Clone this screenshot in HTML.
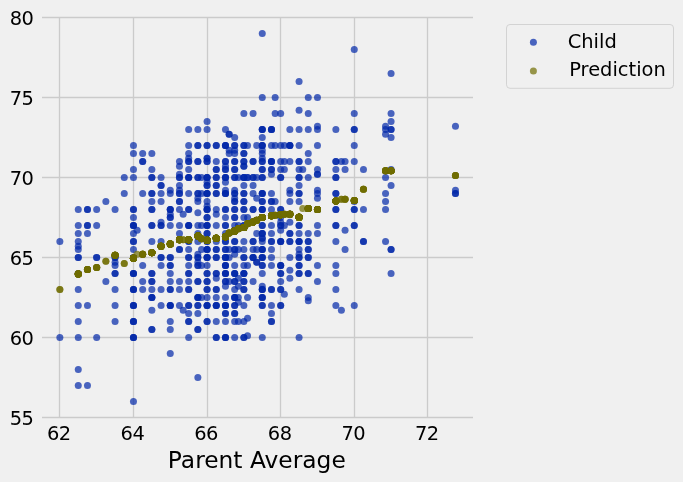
<!DOCTYPE html>
<html lang="en"><head><meta charset="utf-8"><title>Parent Average vs Child</title>
<style>html,body{margin:0;padding:0;background:#f0f0f0;}body{width:683px;height:482px;overflow:hidden;}svg{display:block;}text{font-family:"DejaVu Sans","Liberation Sans",sans-serif;fill:#000;}</style></head><body>
<svg width="683" height="482" viewBox="0 0 683 482">
<rect width="683" height="482" fill="#f0f0f0"/>
<g stroke="#cbcbcb" stroke-width="1.3" fill="none">
<line x1="59.5" y1="17.00" x2="59.5" y2="418.00"/>
<line x1="133.5" y1="17.00" x2="133.5" y2="418.00"/>
<line x1="207.5" y1="17.00" x2="207.5" y2="418.00"/>
<line x1="280.5" y1="17.00" x2="280.5" y2="418.00"/>
<line x1="354.5" y1="17.00" x2="354.5" y2="418.00"/>
<line x1="427.5" y1="17.00" x2="427.5" y2="418.00"/>
<line x1="42.00" y1="417.5" x2="473.00" y2="417.5"/>
<line x1="42.00" y1="337.5" x2="473.00" y2="337.5"/>
<line x1="42.00" y1="257.5" x2="473.00" y2="257.5"/>
<line x1="42.00" y1="177.5" x2="473.00" y2="177.5"/>
<line x1="42.00" y1="97.5" x2="473.00" y2="97.5"/>
<line x1="42.00" y1="17.5" x2="473.00" y2="17.5"/>
</g>
<g fill="rgb(0,38,168)" fill-opacity="0.7">
<circle cx="133.47" cy="401.43" r="3.5"/>
<circle cx="78.27" cy="385.43" r="3.5"/>
<circle cx="87.47" cy="385.43" r="3.5"/>
<circle cx="197.87" cy="377.43" r="3.5"/>
<circle cx="78.27" cy="369.43" r="3.5"/>
<circle cx="170.27" cy="353.43" r="3.5"/>
<circle cx="59.87" cy="337.43" r="3.5"/>
<circle cx="78.27" cy="337.43" r="3.5"/>
<circle cx="96.67" cy="337.43" r="3.5"/>
<circle cx="133.47" cy="337.43" r="3.5"/>
<circle cx="133.47" cy="337.43" r="3.5"/>
<circle cx="133.47" cy="337.43" r="3.5"/>
<circle cx="188.67" cy="337.43" r="3.5"/>
<circle cx="216.27" cy="337.43" r="3.5"/>
<circle cx="216.27" cy="337.43" r="3.5"/>
<circle cx="225.47" cy="337.43" r="3.5"/>
<circle cx="225.47" cy="337.43" r="3.5"/>
<circle cx="225.47" cy="337.43" r="3.5"/>
<circle cx="234.67" cy="337.43" r="3.5"/>
<circle cx="243.87" cy="337.43" r="3.5"/>
<circle cx="243.87" cy="337.43" r="3.5"/>
<circle cx="262.27" cy="337.43" r="3.5"/>
<circle cx="299.07" cy="337.43" r="3.5"/>
<circle cx="247.55" cy="335.83" r="3.5"/>
<circle cx="151.87" cy="329.43" r="3.5"/>
<circle cx="151.87" cy="329.43" r="3.5"/>
<circle cx="170.27" cy="329.43" r="3.5"/>
<circle cx="197.87" cy="329.43" r="3.5"/>
<circle cx="197.87" cy="329.43" r="3.5"/>
<circle cx="78.27" cy="321.43" r="3.5"/>
<circle cx="115.07" cy="321.43" r="3.5"/>
<circle cx="133.47" cy="321.43" r="3.5"/>
<circle cx="133.47" cy="321.43" r="3.5"/>
<circle cx="133.47" cy="321.43" r="3.5"/>
<circle cx="170.27" cy="321.43" r="3.5"/>
<circle cx="188.67" cy="321.43" r="3.5"/>
<circle cx="188.67" cy="321.43" r="3.5"/>
<circle cx="207.07" cy="321.43" r="3.5"/>
<circle cx="207.07" cy="321.43" r="3.5"/>
<circle cx="216.27" cy="321.43" r="3.5"/>
<circle cx="225.47" cy="321.43" r="3.5"/>
<circle cx="234.67" cy="321.43" r="3.5"/>
<circle cx="238.35" cy="321.43" r="3.5"/>
<circle cx="243.87" cy="321.43" r="3.5"/>
<circle cx="271.47" cy="321.43" r="3.5"/>
<circle cx="271.47" cy="321.43" r="3.5"/>
<circle cx="247.55" cy="318.23" r="3.5"/>
<circle cx="188.67" cy="313.43" r="3.5"/>
<circle cx="197.87" cy="313.43" r="3.5"/>
<circle cx="225.47" cy="313.43" r="3.5"/>
<circle cx="225.47" cy="313.43" r="3.5"/>
<circle cx="234.67" cy="313.43" r="3.5"/>
<circle cx="234.67" cy="313.43" r="3.5"/>
<circle cx="271.47" cy="313.43" r="3.5"/>
<circle cx="151.87" cy="310.23" r="3.5"/>
<circle cx="183.15" cy="310.23" r="3.5"/>
<circle cx="341.39" cy="310.23" r="3.5"/>
<circle cx="78.27" cy="305.43" r="3.5"/>
<circle cx="87.47" cy="305.43" r="3.5"/>
<circle cx="115.07" cy="305.43" r="3.5"/>
<circle cx="133.47" cy="305.43" r="3.5"/>
<circle cx="133.47" cy="305.43" r="3.5"/>
<circle cx="133.47" cy="305.43" r="3.5"/>
<circle cx="161.07" cy="305.43" r="3.5"/>
<circle cx="170.27" cy="305.43" r="3.5"/>
<circle cx="170.27" cy="305.43" r="3.5"/>
<circle cx="170.27" cy="305.43" r="3.5"/>
<circle cx="179.47" cy="305.43" r="3.5"/>
<circle cx="188.67" cy="305.43" r="3.5"/>
<circle cx="188.67" cy="305.43" r="3.5"/>
<circle cx="197.87" cy="305.43" r="3.5"/>
<circle cx="197.87" cy="305.43" r="3.5"/>
<circle cx="207.07" cy="305.43" r="3.5"/>
<circle cx="207.07" cy="305.43" r="3.5"/>
<circle cx="207.07" cy="305.43" r="3.5"/>
<circle cx="216.27" cy="305.43" r="3.5"/>
<circle cx="216.27" cy="305.43" r="3.5"/>
<circle cx="216.27" cy="305.43" r="3.5"/>
<circle cx="225.47" cy="305.43" r="3.5"/>
<circle cx="225.47" cy="305.43" r="3.5"/>
<circle cx="225.47" cy="305.43" r="3.5"/>
<circle cx="234.67" cy="305.43" r="3.5"/>
<circle cx="234.67" cy="305.43" r="3.5"/>
<circle cx="243.87" cy="305.43" r="3.5"/>
<circle cx="262.27" cy="305.43" r="3.5"/>
<circle cx="262.27" cy="305.43" r="3.5"/>
<circle cx="271.47" cy="305.43" r="3.5"/>
<circle cx="280.67" cy="305.43" r="3.5"/>
<circle cx="280.67" cy="305.43" r="3.5"/>
<circle cx="335.87" cy="305.43" r="3.5"/>
<circle cx="354.27" cy="305.43" r="3.5"/>
<circle cx="238.35" cy="302.23" r="3.5"/>
<circle cx="308.27" cy="300.63" r="3.5"/>
<circle cx="151.87" cy="297.43" r="3.5"/>
<circle cx="151.87" cy="297.43" r="3.5"/>
<circle cx="151.87" cy="297.43" r="3.5"/>
<circle cx="197.87" cy="297.43" r="3.5"/>
<circle cx="197.87" cy="297.43" r="3.5"/>
<circle cx="197.87" cy="297.43" r="3.5"/>
<circle cx="201.55" cy="297.43" r="3.5"/>
<circle cx="207.07" cy="297.43" r="3.5"/>
<circle cx="216.27" cy="297.43" r="3.5"/>
<circle cx="225.47" cy="297.43" r="3.5"/>
<circle cx="234.67" cy="297.43" r="3.5"/>
<circle cx="234.67" cy="297.43" r="3.5"/>
<circle cx="234.67" cy="297.43" r="3.5"/>
<circle cx="238.35" cy="297.43" r="3.5"/>
<circle cx="247.55" cy="297.43" r="3.5"/>
<circle cx="262.27" cy="297.43" r="3.5"/>
<circle cx="262.27" cy="297.43" r="3.5"/>
<circle cx="262.27" cy="297.43" r="3.5"/>
<circle cx="308.27" cy="297.43" r="3.5"/>
<circle cx="284.35" cy="294.23" r="3.5"/>
<circle cx="78.27" cy="289.43" r="3.5"/>
<circle cx="115.07" cy="289.43" r="3.5"/>
<circle cx="133.47" cy="289.43" r="3.5"/>
<circle cx="133.47" cy="289.43" r="3.5"/>
<circle cx="133.47" cy="289.43" r="3.5"/>
<circle cx="142.67" cy="289.43" r="3.5"/>
<circle cx="151.87" cy="289.43" r="3.5"/>
<circle cx="161.07" cy="289.43" r="3.5"/>
<circle cx="170.27" cy="289.43" r="3.5"/>
<circle cx="170.27" cy="289.43" r="3.5"/>
<circle cx="179.47" cy="289.43" r="3.5"/>
<circle cx="188.67" cy="289.43" r="3.5"/>
<circle cx="188.67" cy="289.43" r="3.5"/>
<circle cx="207.07" cy="289.43" r="3.5"/>
<circle cx="207.07" cy="289.43" r="3.5"/>
<circle cx="216.27" cy="289.43" r="3.5"/>
<circle cx="216.27" cy="289.43" r="3.5"/>
<circle cx="234.67" cy="289.43" r="3.5"/>
<circle cx="243.87" cy="289.43" r="3.5"/>
<circle cx="243.87" cy="289.43" r="3.5"/>
<circle cx="262.27" cy="289.43" r="3.5"/>
<circle cx="262.27" cy="289.43" r="3.5"/>
<circle cx="262.27" cy="289.43" r="3.5"/>
<circle cx="271.47" cy="289.43" r="3.5"/>
<circle cx="271.47" cy="289.43" r="3.5"/>
<circle cx="280.67" cy="289.43" r="3.5"/>
<circle cx="280.67" cy="289.43" r="3.5"/>
<circle cx="299.07" cy="289.43" r="3.5"/>
<circle cx="335.87" cy="289.43" r="3.5"/>
<circle cx="225.47" cy="286.23" r="3.5"/>
<circle cx="238.35" cy="286.23" r="3.5"/>
<circle cx="262.27" cy="286.23" r="3.5"/>
<circle cx="105.87" cy="281.43" r="3.5"/>
<circle cx="142.67" cy="281.43" r="3.5"/>
<circle cx="151.87" cy="281.43" r="3.5"/>
<circle cx="151.87" cy="281.43" r="3.5"/>
<circle cx="170.27" cy="281.43" r="3.5"/>
<circle cx="179.47" cy="281.43" r="3.5"/>
<circle cx="188.67" cy="281.43" r="3.5"/>
<circle cx="197.87" cy="281.43" r="3.5"/>
<circle cx="197.87" cy="281.43" r="3.5"/>
<circle cx="207.07" cy="281.43" r="3.5"/>
<circle cx="207.07" cy="281.43" r="3.5"/>
<circle cx="225.47" cy="281.43" r="3.5"/>
<circle cx="225.47" cy="281.43" r="3.5"/>
<circle cx="229.15" cy="281.43" r="3.5"/>
<circle cx="234.67" cy="281.43" r="3.5"/>
<circle cx="234.67" cy="281.43" r="3.5"/>
<circle cx="243.87" cy="281.43" r="3.5"/>
<circle cx="243.87" cy="281.43" r="3.5"/>
<circle cx="253.07" cy="281.43" r="3.5"/>
<circle cx="280.67" cy="281.43" r="3.5"/>
<circle cx="317.47" cy="281.43" r="3.5"/>
<circle cx="216.27" cy="278.23" r="3.5"/>
<circle cx="238.35" cy="278.23" r="3.5"/>
<circle cx="289.87" cy="278.23" r="3.5"/>
<circle cx="78.27" cy="273.43" r="3.5"/>
<circle cx="115.07" cy="273.43" r="3.5"/>
<circle cx="115.07" cy="273.43" r="3.5"/>
<circle cx="133.47" cy="273.43" r="3.5"/>
<circle cx="133.47" cy="273.43" r="3.5"/>
<circle cx="133.47" cy="273.43" r="3.5"/>
<circle cx="151.87" cy="273.43" r="3.5"/>
<circle cx="151.87" cy="273.43" r="3.5"/>
<circle cx="170.27" cy="273.43" r="3.5"/>
<circle cx="188.67" cy="273.43" r="3.5"/>
<circle cx="188.67" cy="273.43" r="3.5"/>
<circle cx="207.07" cy="273.43" r="3.5"/>
<circle cx="207.07" cy="273.43" r="3.5"/>
<circle cx="216.27" cy="273.43" r="3.5"/>
<circle cx="216.27" cy="273.43" r="3.5"/>
<circle cx="225.47" cy="273.43" r="3.5"/>
<circle cx="225.47" cy="273.43" r="3.5"/>
<circle cx="225.47" cy="273.43" r="3.5"/>
<circle cx="234.67" cy="273.43" r="3.5"/>
<circle cx="234.67" cy="273.43" r="3.5"/>
<circle cx="234.67" cy="273.43" r="3.5"/>
<circle cx="243.87" cy="273.43" r="3.5"/>
<circle cx="243.87" cy="273.43" r="3.5"/>
<circle cx="243.87" cy="273.43" r="3.5"/>
<circle cx="262.27" cy="273.43" r="3.5"/>
<circle cx="280.67" cy="273.43" r="3.5"/>
<circle cx="280.67" cy="273.43" r="3.5"/>
<circle cx="299.07" cy="273.43" r="3.5"/>
<circle cx="299.07" cy="273.43" r="3.5"/>
<circle cx="308.27" cy="273.43" r="3.5"/>
<circle cx="308.27" cy="273.43" r="3.5"/>
<circle cx="335.87" cy="273.43" r="3.5"/>
<circle cx="391.07" cy="273.43" r="3.5"/>
<circle cx="289.87" cy="270.23" r="3.5"/>
<circle cx="115.07" cy="265.43" r="3.5"/>
<circle cx="142.67" cy="265.43" r="3.5"/>
<circle cx="161.07" cy="265.43" r="3.5"/>
<circle cx="170.27" cy="265.43" r="3.5"/>
<circle cx="170.27" cy="265.43" r="3.5"/>
<circle cx="188.67" cy="265.43" r="3.5"/>
<circle cx="197.87" cy="265.43" r="3.5"/>
<circle cx="197.87" cy="265.43" r="3.5"/>
<circle cx="201.55" cy="265.43" r="3.5"/>
<circle cx="207.07" cy="265.43" r="3.5"/>
<circle cx="225.47" cy="265.43" r="3.5"/>
<circle cx="225.47" cy="265.43" r="3.5"/>
<circle cx="225.47" cy="265.43" r="3.5"/>
<circle cx="234.67" cy="265.43" r="3.5"/>
<circle cx="243.87" cy="265.43" r="3.5"/>
<circle cx="247.55" cy="265.43" r="3.5"/>
<circle cx="262.27" cy="265.43" r="3.5"/>
<circle cx="262.27" cy="265.43" r="3.5"/>
<circle cx="271.47" cy="265.43" r="3.5"/>
<circle cx="280.67" cy="265.43" r="3.5"/>
<circle cx="280.67" cy="265.43" r="3.5"/>
<circle cx="280.67" cy="265.43" r="3.5"/>
<circle cx="299.07" cy="265.43" r="3.5"/>
<circle cx="299.07" cy="265.43" r="3.5"/>
<circle cx="317.47" cy="265.43" r="3.5"/>
<circle cx="335.87" cy="265.43" r="3.5"/>
<circle cx="115.07" cy="262.23" r="3.5"/>
<circle cx="197.87" cy="262.23" r="3.5"/>
<circle cx="256.75" cy="262.23" r="3.5"/>
<circle cx="256.75" cy="262.23" r="3.5"/>
<circle cx="78.27" cy="257.43" r="3.5"/>
<circle cx="78.27" cy="257.43" r="3.5"/>
<circle cx="96.67" cy="257.43" r="3.5"/>
<circle cx="96.67" cy="257.43" r="3.5"/>
<circle cx="115.07" cy="257.43" r="3.5"/>
<circle cx="115.07" cy="257.43" r="3.5"/>
<circle cx="133.47" cy="257.43" r="3.5"/>
<circle cx="161.07" cy="257.43" r="3.5"/>
<circle cx="161.07" cy="257.43" r="3.5"/>
<circle cx="170.27" cy="257.43" r="3.5"/>
<circle cx="170.27" cy="257.43" r="3.5"/>
<circle cx="188.67" cy="257.43" r="3.5"/>
<circle cx="188.67" cy="257.43" r="3.5"/>
<circle cx="197.87" cy="257.43" r="3.5"/>
<circle cx="197.87" cy="257.43" r="3.5"/>
<circle cx="207.07" cy="257.43" r="3.5"/>
<circle cx="207.07" cy="257.43" r="3.5"/>
<circle cx="207.07" cy="257.43" r="3.5"/>
<circle cx="216.27" cy="257.43" r="3.5"/>
<circle cx="216.27" cy="257.43" r="3.5"/>
<circle cx="225.47" cy="257.43" r="3.5"/>
<circle cx="225.47" cy="257.43" r="3.5"/>
<circle cx="225.47" cy="257.43" r="3.5"/>
<circle cx="229.15" cy="257.43" r="3.5"/>
<circle cx="243.87" cy="257.43" r="3.5"/>
<circle cx="243.87" cy="257.43" r="3.5"/>
<circle cx="253.07" cy="257.43" r="3.5"/>
<circle cx="253.07" cy="257.43" r="3.5"/>
<circle cx="253.07" cy="257.43" r="3.5"/>
<circle cx="262.27" cy="257.43" r="3.5"/>
<circle cx="262.27" cy="257.43" r="3.5"/>
<circle cx="262.27" cy="257.43" r="3.5"/>
<circle cx="271.47" cy="257.43" r="3.5"/>
<circle cx="289.87" cy="257.43" r="3.5"/>
<circle cx="299.07" cy="257.43" r="3.5"/>
<circle cx="299.07" cy="257.43" r="3.5"/>
<circle cx="308.27" cy="257.43" r="3.5"/>
<circle cx="308.27" cy="257.43" r="3.5"/>
<circle cx="197.87" cy="254.23" r="3.5"/>
<circle cx="234.67" cy="254.23" r="3.5"/>
<circle cx="299.07" cy="254.23" r="3.5"/>
<circle cx="78.27" cy="249.43" r="3.5"/>
<circle cx="133.47" cy="249.43" r="3.5"/>
<circle cx="179.47" cy="249.43" r="3.5"/>
<circle cx="179.47" cy="249.43" r="3.5"/>
<circle cx="188.67" cy="249.43" r="3.5"/>
<circle cx="201.55" cy="249.43" r="3.5"/>
<circle cx="207.07" cy="249.43" r="3.5"/>
<circle cx="207.07" cy="249.43" r="3.5"/>
<circle cx="207.07" cy="249.43" r="3.5"/>
<circle cx="216.27" cy="249.43" r="3.5"/>
<circle cx="216.27" cy="249.43" r="3.5"/>
<circle cx="225.47" cy="249.43" r="3.5"/>
<circle cx="225.47" cy="249.43" r="3.5"/>
<circle cx="229.15" cy="249.43" r="3.5"/>
<circle cx="234.67" cy="249.43" r="3.5"/>
<circle cx="234.67" cy="249.43" r="3.5"/>
<circle cx="238.35" cy="249.43" r="3.5"/>
<circle cx="243.87" cy="249.43" r="3.5"/>
<circle cx="253.07" cy="249.43" r="3.5"/>
<circle cx="256.75" cy="249.43" r="3.5"/>
<circle cx="262.27" cy="249.43" r="3.5"/>
<circle cx="262.27" cy="249.43" r="3.5"/>
<circle cx="262.27" cy="249.43" r="3.5"/>
<circle cx="271.47" cy="249.43" r="3.5"/>
<circle cx="299.07" cy="249.43" r="3.5"/>
<circle cx="308.27" cy="249.43" r="3.5"/>
<circle cx="308.27" cy="249.43" r="3.5"/>
<circle cx="345.07" cy="249.43" r="3.5"/>
<circle cx="391.07" cy="249.43" r="3.5"/>
<circle cx="391.07" cy="249.43" r="3.5"/>
<circle cx="78.27" cy="246.23" r="3.5"/>
<circle cx="59.87" cy="241.43" r="3.5"/>
<circle cx="78.27" cy="241.43" r="3.5"/>
<circle cx="133.47" cy="241.43" r="3.5"/>
<circle cx="133.47" cy="241.43" r="3.5"/>
<circle cx="151.87" cy="241.43" r="3.5"/>
<circle cx="161.07" cy="241.43" r="3.5"/>
<circle cx="188.67" cy="241.43" r="3.5"/>
<circle cx="188.67" cy="241.43" r="3.5"/>
<circle cx="197.87" cy="241.43" r="3.5"/>
<circle cx="207.07" cy="241.43" r="3.5"/>
<circle cx="207.07" cy="241.43" r="3.5"/>
<circle cx="216.27" cy="241.43" r="3.5"/>
<circle cx="225.47" cy="241.43" r="3.5"/>
<circle cx="225.47" cy="241.43" r="3.5"/>
<circle cx="234.67" cy="241.43" r="3.5"/>
<circle cx="234.67" cy="241.43" r="3.5"/>
<circle cx="243.87" cy="241.43" r="3.5"/>
<circle cx="253.07" cy="241.43" r="3.5"/>
<circle cx="253.07" cy="241.43" r="3.5"/>
<circle cx="262.27" cy="241.43" r="3.5"/>
<circle cx="271.47" cy="241.43" r="3.5"/>
<circle cx="271.47" cy="241.43" r="3.5"/>
<circle cx="280.67" cy="241.43" r="3.5"/>
<circle cx="280.67" cy="241.43" r="3.5"/>
<circle cx="280.67" cy="241.43" r="3.5"/>
<circle cx="289.87" cy="241.43" r="3.5"/>
<circle cx="289.87" cy="241.43" r="3.5"/>
<circle cx="299.07" cy="241.43" r="3.5"/>
<circle cx="299.07" cy="241.43" r="3.5"/>
<circle cx="299.07" cy="241.43" r="3.5"/>
<circle cx="308.27" cy="241.43" r="3.5"/>
<circle cx="308.27" cy="241.43" r="3.5"/>
<circle cx="335.87" cy="241.43" r="3.5"/>
<circle cx="363.47" cy="241.43" r="3.5"/>
<circle cx="363.47" cy="241.43" r="3.5"/>
<circle cx="385.55" cy="241.43" r="3.5"/>
<circle cx="262.27" cy="238.23" r="3.5"/>
<circle cx="262.27" cy="238.23" r="3.5"/>
<circle cx="78.27" cy="233.43" r="3.5"/>
<circle cx="87.47" cy="233.43" r="3.5"/>
<circle cx="133.47" cy="233.43" r="3.5"/>
<circle cx="179.47" cy="233.43" r="3.5"/>
<circle cx="197.87" cy="233.43" r="3.5"/>
<circle cx="207.07" cy="233.43" r="3.5"/>
<circle cx="207.07" cy="233.43" r="3.5"/>
<circle cx="225.47" cy="233.43" r="3.5"/>
<circle cx="256.75" cy="233.43" r="3.5"/>
<circle cx="262.27" cy="233.43" r="3.5"/>
<circle cx="262.27" cy="233.43" r="3.5"/>
<circle cx="262.27" cy="233.43" r="3.5"/>
<circle cx="271.47" cy="233.43" r="3.5"/>
<circle cx="289.87" cy="233.43" r="3.5"/>
<circle cx="289.87" cy="233.43" r="3.5"/>
<circle cx="299.07" cy="233.43" r="3.5"/>
<circle cx="308.27" cy="233.43" r="3.5"/>
<circle cx="317.47" cy="233.43" r="3.5"/>
<circle cx="137.15" cy="230.23" r="3.5"/>
<circle cx="280.67" cy="230.23" r="3.5"/>
<circle cx="345.07" cy="230.23" r="3.5"/>
<circle cx="78.27" cy="225.43" r="3.5"/>
<circle cx="87.47" cy="225.43" r="3.5"/>
<circle cx="87.47" cy="225.43" r="3.5"/>
<circle cx="96.67" cy="225.43" r="3.5"/>
<circle cx="133.47" cy="225.43" r="3.5"/>
<circle cx="133.47" cy="225.43" r="3.5"/>
<circle cx="133.47" cy="225.43" r="3.5"/>
<circle cx="151.87" cy="225.43" r="3.5"/>
<circle cx="151.87" cy="225.43" r="3.5"/>
<circle cx="161.07" cy="225.43" r="3.5"/>
<circle cx="161.07" cy="225.43" r="3.5"/>
<circle cx="170.27" cy="225.43" r="3.5"/>
<circle cx="179.47" cy="225.43" r="3.5"/>
<circle cx="188.67" cy="225.43" r="3.5"/>
<circle cx="188.67" cy="225.43" r="3.5"/>
<circle cx="188.67" cy="225.43" r="3.5"/>
<circle cx="197.87" cy="225.43" r="3.5"/>
<circle cx="201.55" cy="225.43" r="3.5"/>
<circle cx="207.07" cy="225.43" r="3.5"/>
<circle cx="207.07" cy="225.43" r="3.5"/>
<circle cx="207.07" cy="225.43" r="3.5"/>
<circle cx="216.27" cy="225.43" r="3.5"/>
<circle cx="225.47" cy="225.43" r="3.5"/>
<circle cx="225.47" cy="225.43" r="3.5"/>
<circle cx="234.67" cy="225.43" r="3.5"/>
<circle cx="238.35" cy="225.43" r="3.5"/>
<circle cx="243.87" cy="225.43" r="3.5"/>
<circle cx="243.87" cy="225.43" r="3.5"/>
<circle cx="262.27" cy="225.43" r="3.5"/>
<circle cx="262.27" cy="225.43" r="3.5"/>
<circle cx="271.47" cy="225.43" r="3.5"/>
<circle cx="280.67" cy="225.43" r="3.5"/>
<circle cx="280.67" cy="225.43" r="3.5"/>
<circle cx="284.35" cy="225.43" r="3.5"/>
<circle cx="299.07" cy="225.43" r="3.5"/>
<circle cx="299.07" cy="225.43" r="3.5"/>
<circle cx="317.47" cy="225.43" r="3.5"/>
<circle cx="335.87" cy="225.43" r="3.5"/>
<circle cx="335.87" cy="225.43" r="3.5"/>
<circle cx="354.27" cy="225.43" r="3.5"/>
<circle cx="354.27" cy="225.43" r="3.5"/>
<circle cx="161.07" cy="222.23" r="3.5"/>
<circle cx="280.67" cy="222.23" r="3.5"/>
<circle cx="289.87" cy="222.23" r="3.5"/>
<circle cx="133.47" cy="217.43" r="3.5"/>
<circle cx="170.27" cy="217.43" r="3.5"/>
<circle cx="170.27" cy="217.43" r="3.5"/>
<circle cx="207.07" cy="217.43" r="3.5"/>
<circle cx="207.07" cy="217.43" r="3.5"/>
<circle cx="225.47" cy="217.43" r="3.5"/>
<circle cx="234.67" cy="217.43" r="3.5"/>
<circle cx="234.67" cy="217.43" r="3.5"/>
<circle cx="243.87" cy="217.43" r="3.5"/>
<circle cx="247.55" cy="217.43" r="3.5"/>
<circle cx="280.67" cy="217.43" r="3.5"/>
<circle cx="170.27" cy="214.23" r="3.5"/>
<circle cx="183.15" cy="214.23" r="3.5"/>
<circle cx="216.27" cy="214.23" r="3.5"/>
<circle cx="197.87" cy="212.63" r="3.5"/>
<circle cx="78.27" cy="209.43" r="3.5"/>
<circle cx="87.47" cy="209.43" r="3.5"/>
<circle cx="87.47" cy="209.43" r="3.5"/>
<circle cx="96.67" cy="209.43" r="3.5"/>
<circle cx="115.07" cy="209.43" r="3.5"/>
<circle cx="133.47" cy="209.43" r="3.5"/>
<circle cx="133.47" cy="209.43" r="3.5"/>
<circle cx="151.87" cy="209.43" r="3.5"/>
<circle cx="151.87" cy="209.43" r="3.5"/>
<circle cx="170.27" cy="209.43" r="3.5"/>
<circle cx="170.27" cy="209.43" r="3.5"/>
<circle cx="170.27" cy="209.43" r="3.5"/>
<circle cx="179.47" cy="209.43" r="3.5"/>
<circle cx="188.67" cy="209.43" r="3.5"/>
<circle cx="188.67" cy="209.43" r="3.5"/>
<circle cx="207.07" cy="209.43" r="3.5"/>
<circle cx="207.07" cy="209.43" r="3.5"/>
<circle cx="207.07" cy="209.43" r="3.5"/>
<circle cx="216.27" cy="209.43" r="3.5"/>
<circle cx="225.47" cy="209.43" r="3.5"/>
<circle cx="225.47" cy="209.43" r="3.5"/>
<circle cx="234.67" cy="209.43" r="3.5"/>
<circle cx="234.67" cy="209.43" r="3.5"/>
<circle cx="243.87" cy="209.43" r="3.5"/>
<circle cx="243.87" cy="209.43" r="3.5"/>
<circle cx="253.07" cy="209.43" r="3.5"/>
<circle cx="253.07" cy="209.43" r="3.5"/>
<circle cx="262.27" cy="209.43" r="3.5"/>
<circle cx="262.27" cy="209.43" r="3.5"/>
<circle cx="262.27" cy="209.43" r="3.5"/>
<circle cx="271.47" cy="209.43" r="3.5"/>
<circle cx="280.67" cy="209.43" r="3.5"/>
<circle cx="280.67" cy="209.43" r="3.5"/>
<circle cx="335.87" cy="209.43" r="3.5"/>
<circle cx="335.87" cy="209.43" r="3.5"/>
<circle cx="354.27" cy="209.43" r="3.5"/>
<circle cx="354.27" cy="209.43" r="3.5"/>
<circle cx="363.47" cy="209.43" r="3.5"/>
<circle cx="385.55" cy="209.43" r="3.5"/>
<circle cx="207.07" cy="206.23" r="3.5"/>
<circle cx="105.87" cy="201.43" r="3.5"/>
<circle cx="151.87" cy="201.43" r="3.5"/>
<circle cx="161.07" cy="201.43" r="3.5"/>
<circle cx="179.47" cy="201.43" r="3.5"/>
<circle cx="179.47" cy="201.43" r="3.5"/>
<circle cx="197.87" cy="201.43" r="3.5"/>
<circle cx="207.07" cy="201.43" r="3.5"/>
<circle cx="234.67" cy="201.43" r="3.5"/>
<circle cx="234.67" cy="201.43" r="3.5"/>
<circle cx="243.87" cy="201.43" r="3.5"/>
<circle cx="243.87" cy="201.43" r="3.5"/>
<circle cx="262.27" cy="201.43" r="3.5"/>
<circle cx="262.27" cy="201.43" r="3.5"/>
<circle cx="271.47" cy="201.43" r="3.5"/>
<circle cx="271.47" cy="201.43" r="3.5"/>
<circle cx="275.15" cy="201.43" r="3.5"/>
<circle cx="289.87" cy="201.43" r="3.5"/>
<circle cx="299.07" cy="201.43" r="3.5"/>
<circle cx="354.27" cy="201.43" r="3.5"/>
<circle cx="385.55" cy="201.43" r="3.5"/>
<circle cx="197.87" cy="198.23" r="3.5"/>
<circle cx="234.67" cy="198.23" r="3.5"/>
<circle cx="256.75" cy="198.23" r="3.5"/>
<circle cx="317.47" cy="198.23" r="3.5"/>
<circle cx="124.27" cy="193.43" r="3.5"/>
<circle cx="142.67" cy="193.43" r="3.5"/>
<circle cx="151.87" cy="193.43" r="3.5"/>
<circle cx="151.87" cy="193.43" r="3.5"/>
<circle cx="161.07" cy="193.43" r="3.5"/>
<circle cx="170.27" cy="193.43" r="3.5"/>
<circle cx="179.47" cy="193.43" r="3.5"/>
<circle cx="179.47" cy="193.43" r="3.5"/>
<circle cx="188.67" cy="193.43" r="3.5"/>
<circle cx="197.87" cy="193.43" r="3.5"/>
<circle cx="197.87" cy="193.43" r="3.5"/>
<circle cx="201.55" cy="193.43" r="3.5"/>
<circle cx="207.07" cy="193.43" r="3.5"/>
<circle cx="207.07" cy="193.43" r="3.5"/>
<circle cx="207.07" cy="193.43" r="3.5"/>
<circle cx="216.27" cy="193.43" r="3.5"/>
<circle cx="216.27" cy="193.43" r="3.5"/>
<circle cx="225.47" cy="193.43" r="3.5"/>
<circle cx="225.47" cy="193.43" r="3.5"/>
<circle cx="225.47" cy="193.43" r="3.5"/>
<circle cx="234.67" cy="193.43" r="3.5"/>
<circle cx="234.67" cy="193.43" r="3.5"/>
<circle cx="243.87" cy="193.43" r="3.5"/>
<circle cx="243.87" cy="193.43" r="3.5"/>
<circle cx="253.07" cy="193.43" r="3.5"/>
<circle cx="262.27" cy="193.43" r="3.5"/>
<circle cx="262.27" cy="193.43" r="3.5"/>
<circle cx="262.27" cy="193.43" r="3.5"/>
<circle cx="271.47" cy="193.43" r="3.5"/>
<circle cx="289.87" cy="193.43" r="3.5"/>
<circle cx="299.07" cy="193.43" r="3.5"/>
<circle cx="299.07" cy="193.43" r="3.5"/>
<circle cx="317.47" cy="193.43" r="3.5"/>
<circle cx="335.87" cy="193.43" r="3.5"/>
<circle cx="335.87" cy="193.43" r="3.5"/>
<circle cx="385.55" cy="193.43" r="3.5"/>
<circle cx="455.47" cy="193.43" r="3.5"/>
<circle cx="455.47" cy="193.43" r="3.5"/>
<circle cx="170.27" cy="190.23" r="3.5"/>
<circle cx="179.47" cy="190.23" r="3.5"/>
<circle cx="225.47" cy="190.23" r="3.5"/>
<circle cx="234.67" cy="190.23" r="3.5"/>
<circle cx="289.87" cy="190.23" r="3.5"/>
<circle cx="317.47" cy="190.23" r="3.5"/>
<circle cx="455.47" cy="190.23" r="3.5"/>
<circle cx="161.07" cy="185.43" r="3.5"/>
<circle cx="161.07" cy="185.43" r="3.5"/>
<circle cx="179.47" cy="185.43" r="3.5"/>
<circle cx="207.07" cy="185.43" r="3.5"/>
<circle cx="207.07" cy="185.43" r="3.5"/>
<circle cx="216.27" cy="185.43" r="3.5"/>
<circle cx="216.27" cy="185.43" r="3.5"/>
<circle cx="243.87" cy="185.43" r="3.5"/>
<circle cx="253.07" cy="185.43" r="3.5"/>
<circle cx="299.07" cy="185.43" r="3.5"/>
<circle cx="391.07" cy="185.43" r="3.5"/>
<circle cx="207.07" cy="182.23" r="3.5"/>
<circle cx="225.47" cy="182.23" r="3.5"/>
<circle cx="124.27" cy="177.43" r="3.5"/>
<circle cx="133.47" cy="177.43" r="3.5"/>
<circle cx="151.87" cy="177.43" r="3.5"/>
<circle cx="151.87" cy="177.43" r="3.5"/>
<circle cx="161.07" cy="177.43" r="3.5"/>
<circle cx="179.47" cy="177.43" r="3.5"/>
<circle cx="179.47" cy="177.43" r="3.5"/>
<circle cx="188.67" cy="177.43" r="3.5"/>
<circle cx="188.67" cy="177.43" r="3.5"/>
<circle cx="188.67" cy="177.43" r="3.5"/>
<circle cx="197.87" cy="177.43" r="3.5"/>
<circle cx="197.87" cy="177.43" r="3.5"/>
<circle cx="201.55" cy="177.43" r="3.5"/>
<circle cx="207.07" cy="177.43" r="3.5"/>
<circle cx="207.07" cy="177.43" r="3.5"/>
<circle cx="207.07" cy="177.43" r="3.5"/>
<circle cx="216.27" cy="177.43" r="3.5"/>
<circle cx="216.27" cy="177.43" r="3.5"/>
<circle cx="225.47" cy="177.43" r="3.5"/>
<circle cx="225.47" cy="177.43" r="3.5"/>
<circle cx="225.47" cy="177.43" r="3.5"/>
<circle cx="234.67" cy="177.43" r="3.5"/>
<circle cx="234.67" cy="177.43" r="3.5"/>
<circle cx="238.35" cy="177.43" r="3.5"/>
<circle cx="243.87" cy="177.43" r="3.5"/>
<circle cx="243.87" cy="177.43" r="3.5"/>
<circle cx="243.87" cy="177.43" r="3.5"/>
<circle cx="247.55" cy="177.43" r="3.5"/>
<circle cx="247.55" cy="177.43" r="3.5"/>
<circle cx="253.07" cy="177.43" r="3.5"/>
<circle cx="253.07" cy="177.43" r="3.5"/>
<circle cx="256.75" cy="177.43" r="3.5"/>
<circle cx="262.27" cy="177.43" r="3.5"/>
<circle cx="262.27" cy="177.43" r="3.5"/>
<circle cx="280.67" cy="177.43" r="3.5"/>
<circle cx="280.67" cy="177.43" r="3.5"/>
<circle cx="299.07" cy="177.43" r="3.5"/>
<circle cx="299.07" cy="177.43" r="3.5"/>
<circle cx="308.27" cy="177.43" r="3.5"/>
<circle cx="335.87" cy="177.43" r="3.5"/>
<circle cx="335.87" cy="177.43" r="3.5"/>
<circle cx="385.55" cy="177.43" r="3.5"/>
<circle cx="179.47" cy="174.23" r="3.5"/>
<circle cx="271.47" cy="174.23" r="3.5"/>
<circle cx="317.47" cy="174.23" r="3.5"/>
<circle cx="317.47" cy="174.23" r="3.5"/>
<circle cx="133.47" cy="169.43" r="3.5"/>
<circle cx="151.87" cy="169.43" r="3.5"/>
<circle cx="188.67" cy="169.43" r="3.5"/>
<circle cx="216.27" cy="169.43" r="3.5"/>
<circle cx="216.27" cy="169.43" r="3.5"/>
<circle cx="225.47" cy="169.43" r="3.5"/>
<circle cx="225.47" cy="169.43" r="3.5"/>
<circle cx="234.67" cy="169.43" r="3.5"/>
<circle cx="234.67" cy="169.43" r="3.5"/>
<circle cx="262.27" cy="169.43" r="3.5"/>
<circle cx="262.27" cy="169.43" r="3.5"/>
<circle cx="271.47" cy="169.43" r="3.5"/>
<circle cx="271.47" cy="169.43" r="3.5"/>
<circle cx="280.67" cy="169.43" r="3.5"/>
<circle cx="284.35" cy="169.43" r="3.5"/>
<circle cx="299.07" cy="169.43" r="3.5"/>
<circle cx="302.75" cy="169.43" r="3.5"/>
<circle cx="317.47" cy="169.43" r="3.5"/>
<circle cx="335.87" cy="169.43" r="3.5"/>
<circle cx="345.07" cy="169.43" r="3.5"/>
<circle cx="363.47" cy="169.43" r="3.5"/>
<circle cx="391.07" cy="169.43" r="3.5"/>
<circle cx="179.47" cy="166.23" r="3.5"/>
<circle cx="225.47" cy="166.23" r="3.5"/>
<circle cx="243.87" cy="166.23" r="3.5"/>
<circle cx="243.87" cy="166.23" r="3.5"/>
<circle cx="142.67" cy="161.43" r="3.5"/>
<circle cx="142.67" cy="161.43" r="3.5"/>
<circle cx="179.47" cy="161.43" r="3.5"/>
<circle cx="188.67" cy="161.43" r="3.5"/>
<circle cx="188.67" cy="161.43" r="3.5"/>
<circle cx="197.87" cy="161.43" r="3.5"/>
<circle cx="197.87" cy="161.43" r="3.5"/>
<circle cx="207.07" cy="161.43" r="3.5"/>
<circle cx="207.07" cy="161.43" r="3.5"/>
<circle cx="216.27" cy="161.43" r="3.5"/>
<circle cx="225.47" cy="161.43" r="3.5"/>
<circle cx="225.47" cy="161.43" r="3.5"/>
<circle cx="234.67" cy="161.43" r="3.5"/>
<circle cx="234.67" cy="161.43" r="3.5"/>
<circle cx="243.87" cy="161.43" r="3.5"/>
<circle cx="243.87" cy="161.43" r="3.5"/>
<circle cx="253.07" cy="161.43" r="3.5"/>
<circle cx="253.07" cy="161.43" r="3.5"/>
<circle cx="262.27" cy="161.43" r="3.5"/>
<circle cx="262.27" cy="161.43" r="3.5"/>
<circle cx="271.47" cy="161.43" r="3.5"/>
<circle cx="271.47" cy="161.43" r="3.5"/>
<circle cx="271.47" cy="161.43" r="3.5"/>
<circle cx="280.67" cy="161.43" r="3.5"/>
<circle cx="284.35" cy="161.43" r="3.5"/>
<circle cx="289.87" cy="161.43" r="3.5"/>
<circle cx="299.07" cy="161.43" r="3.5"/>
<circle cx="299.07" cy="161.43" r="3.5"/>
<circle cx="308.27" cy="161.43" r="3.5"/>
<circle cx="335.87" cy="161.43" r="3.5"/>
<circle cx="335.87" cy="161.43" r="3.5"/>
<circle cx="341.39" cy="161.43" r="3.5"/>
<circle cx="345.07" cy="161.43" r="3.5"/>
<circle cx="354.27" cy="161.43" r="3.5"/>
<circle cx="188.67" cy="158.23" r="3.5"/>
<circle cx="207.07" cy="158.23" r="3.5"/>
<circle cx="207.07" cy="158.23" r="3.5"/>
<circle cx="262.27" cy="158.23" r="3.5"/>
<circle cx="133.47" cy="153.43" r="3.5"/>
<circle cx="142.67" cy="153.43" r="3.5"/>
<circle cx="151.87" cy="153.43" r="3.5"/>
<circle cx="188.67" cy="153.43" r="3.5"/>
<circle cx="229.15" cy="153.43" r="3.5"/>
<circle cx="234.67" cy="153.43" r="3.5"/>
<circle cx="243.87" cy="153.43" r="3.5"/>
<circle cx="243.87" cy="153.43" r="3.5"/>
<circle cx="262.27" cy="153.43" r="3.5"/>
<circle cx="308.27" cy="153.43" r="3.5"/>
<circle cx="229.15" cy="150.23" r="3.5"/>
<circle cx="234.67" cy="150.23" r="3.5"/>
<circle cx="262.27" cy="150.23" r="3.5"/>
<circle cx="133.47" cy="145.43" r="3.5"/>
<circle cx="188.67" cy="145.43" r="3.5"/>
<circle cx="197.87" cy="145.43" r="3.5"/>
<circle cx="197.87" cy="145.43" r="3.5"/>
<circle cx="207.07" cy="145.43" r="3.5"/>
<circle cx="207.07" cy="145.43" r="3.5"/>
<circle cx="216.27" cy="145.43" r="3.5"/>
<circle cx="216.27" cy="145.43" r="3.5"/>
<circle cx="225.47" cy="145.43" r="3.5"/>
<circle cx="225.47" cy="145.43" r="3.5"/>
<circle cx="225.47" cy="145.43" r="3.5"/>
<circle cx="234.67" cy="145.43" r="3.5"/>
<circle cx="234.67" cy="145.43" r="3.5"/>
<circle cx="243.87" cy="145.43" r="3.5"/>
<circle cx="243.87" cy="145.43" r="3.5"/>
<circle cx="247.55" cy="145.43" r="3.5"/>
<circle cx="256.75" cy="145.43" r="3.5"/>
<circle cx="262.27" cy="145.43" r="3.5"/>
<circle cx="262.27" cy="145.43" r="3.5"/>
<circle cx="262.27" cy="145.43" r="3.5"/>
<circle cx="271.47" cy="145.43" r="3.5"/>
<circle cx="275.15" cy="145.43" r="3.5"/>
<circle cx="280.67" cy="145.43" r="3.5"/>
<circle cx="284.35" cy="145.43" r="3.5"/>
<circle cx="289.87" cy="145.43" r="3.5"/>
<circle cx="289.87" cy="145.43" r="3.5"/>
<circle cx="289.87" cy="145.43" r="3.5"/>
<circle cx="299.07" cy="145.43" r="3.5"/>
<circle cx="317.47" cy="145.43" r="3.5"/>
<circle cx="354.27" cy="145.43" r="3.5"/>
<circle cx="234.67" cy="137.43" r="3.5"/>
<circle cx="262.27" cy="137.43" r="3.5"/>
<circle cx="391.07" cy="137.43" r="3.5"/>
<circle cx="229.15" cy="134.23" r="3.5"/>
<circle cx="229.15" cy="134.23" r="3.5"/>
<circle cx="385.55" cy="134.23" r="3.5"/>
<circle cx="188.67" cy="129.43" r="3.5"/>
<circle cx="197.87" cy="129.43" r="3.5"/>
<circle cx="207.07" cy="129.43" r="3.5"/>
<circle cx="225.47" cy="129.43" r="3.5"/>
<circle cx="262.27" cy="129.43" r="3.5"/>
<circle cx="262.27" cy="129.43" r="3.5"/>
<circle cx="262.27" cy="129.43" r="3.5"/>
<circle cx="271.47" cy="129.43" r="3.5"/>
<circle cx="271.47" cy="129.43" r="3.5"/>
<circle cx="271.47" cy="129.43" r="3.5"/>
<circle cx="289.87" cy="129.43" r="3.5"/>
<circle cx="299.07" cy="129.43" r="3.5"/>
<circle cx="308.27" cy="129.43" r="3.5"/>
<circle cx="317.47" cy="129.43" r="3.5"/>
<circle cx="335.87" cy="129.43" r="3.5"/>
<circle cx="354.27" cy="129.43" r="3.5"/>
<circle cx="354.27" cy="129.43" r="3.5"/>
<circle cx="385.55" cy="129.43" r="3.5"/>
<circle cx="391.07" cy="129.43" r="3.5"/>
<circle cx="391.07" cy="129.43" r="3.5"/>
<circle cx="317.47" cy="126.23" r="3.5"/>
<circle cx="385.55" cy="126.23" r="3.5"/>
<circle cx="455.47" cy="126.23" r="3.5"/>
<circle cx="207.07" cy="121.43" r="3.5"/>
<circle cx="391.07" cy="121.43" r="3.5"/>
<circle cx="243.87" cy="113.43" r="3.5"/>
<circle cx="253.07" cy="113.43" r="3.5"/>
<circle cx="275.15" cy="113.43" r="3.5"/>
<circle cx="280.67" cy="113.43" r="3.5"/>
<circle cx="308.27" cy="113.43" r="3.5"/>
<circle cx="354.27" cy="113.43" r="3.5"/>
<circle cx="391.07" cy="113.43" r="3.5"/>
<circle cx="299.07" cy="110.23" r="3.5"/>
<circle cx="262.27" cy="97.43" r="3.5"/>
<circle cx="275.15" cy="97.43" r="3.5"/>
<circle cx="308.27" cy="97.43" r="3.5"/>
<circle cx="317.47" cy="97.43" r="3.5"/>
<circle cx="299.07" cy="81.43" r="3.5"/>
<circle cx="391.07" cy="73.43" r="3.5"/>
<circle cx="354.27" cy="49.43" r="3.5"/>
<circle cx="262.27" cy="33.43" r="3.5"/>
</g>
<g fill="rgb(111,108,0)" fill-opacity="0.7">
<circle cx="59.87" cy="289.43" r="3.5"/>
<circle cx="59.87" cy="289.43" r="3.5"/>
<circle cx="78.27" cy="274.07" r="3.5"/>
<circle cx="78.27" cy="274.07" r="3.5"/>
<circle cx="78.27" cy="274.07" r="3.5"/>
<circle cx="78.27" cy="274.07" r="3.5"/>
<circle cx="78.27" cy="274.07" r="3.5"/>
<circle cx="78.27" cy="274.07" r="3.5"/>
<circle cx="78.27" cy="274.07" r="3.5"/>
<circle cx="78.27" cy="274.07" r="3.5"/>
<circle cx="78.27" cy="274.07" r="3.5"/>
<circle cx="78.27" cy="274.07" r="3.5"/>
<circle cx="78.27" cy="274.07" r="3.5"/>
<circle cx="78.27" cy="274.07" r="3.5"/>
<circle cx="78.27" cy="274.07" r="3.5"/>
<circle cx="78.27" cy="274.07" r="3.5"/>
<circle cx="78.27" cy="274.07" r="3.5"/>
<circle cx="87.47" cy="269.43" r="3.5"/>
<circle cx="87.47" cy="269.43" r="3.5"/>
<circle cx="87.47" cy="269.43" r="3.5"/>
<circle cx="87.47" cy="269.43" r="3.5"/>
<circle cx="87.47" cy="269.43" r="3.5"/>
<circle cx="87.47" cy="269.43" r="3.5"/>
<circle cx="87.47" cy="269.43" r="3.5"/>
<circle cx="96.67" cy="267.51" r="3.5"/>
<circle cx="96.67" cy="267.51" r="3.5"/>
<circle cx="96.67" cy="267.51" r="3.5"/>
<circle cx="96.67" cy="267.51" r="3.5"/>
<circle cx="96.67" cy="267.51" r="3.5"/>
<circle cx="105.87" cy="261.27" r="3.5"/>
<circle cx="105.87" cy="261.27" r="3.5"/>
<circle cx="115.07" cy="255.35" r="3.5"/>
<circle cx="115.07" cy="255.35" r="3.5"/>
<circle cx="115.07" cy="255.35" r="3.5"/>
<circle cx="115.07" cy="255.35" r="3.5"/>
<circle cx="115.07" cy="255.35" r="3.5"/>
<circle cx="115.07" cy="255.35" r="3.5"/>
<circle cx="115.07" cy="255.35" r="3.5"/>
<circle cx="115.07" cy="255.35" r="3.5"/>
<circle cx="115.07" cy="255.35" r="3.5"/>
<circle cx="115.07" cy="255.35" r="3.5"/>
<circle cx="124.27" cy="263.51" r="3.5"/>
<circle cx="124.27" cy="263.51" r="3.5"/>
<circle cx="133.47" cy="258.23" r="3.5"/>
<circle cx="133.47" cy="258.23" r="3.5"/>
<circle cx="133.47" cy="258.23" r="3.5"/>
<circle cx="133.47" cy="258.23" r="3.5"/>
<circle cx="133.47" cy="258.23" r="3.5"/>
<circle cx="133.47" cy="258.23" r="3.5"/>
<circle cx="133.47" cy="258.23" r="3.5"/>
<circle cx="133.47" cy="258.23" r="3.5"/>
<circle cx="133.47" cy="258.23" r="3.5"/>
<circle cx="133.47" cy="258.23" r="3.5"/>
<circle cx="133.47" cy="258.23" r="3.5"/>
<circle cx="133.47" cy="258.23" r="3.5"/>
<circle cx="133.47" cy="258.23" r="3.5"/>
<circle cx="133.47" cy="258.23" r="3.5"/>
<circle cx="133.47" cy="258.23" r="3.5"/>
<circle cx="133.47" cy="258.23" r="3.5"/>
<circle cx="133.47" cy="258.23" r="3.5"/>
<circle cx="133.47" cy="258.23" r="3.5"/>
<circle cx="133.47" cy="258.23" r="3.5"/>
<circle cx="133.47" cy="258.23" r="3.5"/>
<circle cx="133.47" cy="258.23" r="3.5"/>
<circle cx="133.47" cy="258.23" r="3.5"/>
<circle cx="133.47" cy="258.23" r="3.5"/>
<circle cx="133.47" cy="258.23" r="3.5"/>
<circle cx="133.47" cy="258.23" r="3.5"/>
<circle cx="133.47" cy="258.23" r="3.5"/>
<circle cx="133.47" cy="258.23" r="3.5"/>
<circle cx="133.47" cy="258.23" r="3.5"/>
<circle cx="133.47" cy="258.23" r="3.5"/>
<circle cx="133.47" cy="258.23" r="3.5"/>
<circle cx="133.47" cy="258.23" r="3.5"/>
<circle cx="137.15" cy="254.23" r="3.5"/>
<circle cx="142.67" cy="254.23" r="3.5"/>
<circle cx="142.67" cy="254.23" r="3.5"/>
<circle cx="142.67" cy="254.23" r="3.5"/>
<circle cx="142.67" cy="254.23" r="3.5"/>
<circle cx="142.67" cy="254.23" r="3.5"/>
<circle cx="142.67" cy="254.23" r="3.5"/>
<circle cx="142.67" cy="254.23" r="3.5"/>
<circle cx="151.87" cy="252.63" r="3.5"/>
<circle cx="151.87" cy="252.63" r="3.5"/>
<circle cx="151.87" cy="252.63" r="3.5"/>
<circle cx="151.87" cy="252.63" r="3.5"/>
<circle cx="151.87" cy="252.63" r="3.5"/>
<circle cx="151.87" cy="252.63" r="3.5"/>
<circle cx="151.87" cy="252.63" r="3.5"/>
<circle cx="151.87" cy="252.63" r="3.5"/>
<circle cx="151.87" cy="252.63" r="3.5"/>
<circle cx="151.87" cy="252.63" r="3.5"/>
<circle cx="151.87" cy="252.63" r="3.5"/>
<circle cx="151.87" cy="252.63" r="3.5"/>
<circle cx="151.87" cy="252.63" r="3.5"/>
<circle cx="151.87" cy="252.63" r="3.5"/>
<circle cx="151.87" cy="252.63" r="3.5"/>
<circle cx="151.87" cy="252.63" r="3.5"/>
<circle cx="151.87" cy="252.63" r="3.5"/>
<circle cx="151.87" cy="252.63" r="3.5"/>
<circle cx="151.87" cy="252.63" r="3.5"/>
<circle cx="151.87" cy="252.63" r="3.5"/>
<circle cx="151.87" cy="252.63" r="3.5"/>
<circle cx="151.87" cy="252.63" r="3.5"/>
<circle cx="151.87" cy="252.63" r="3.5"/>
<circle cx="161.07" cy="246.23" r="3.5"/>
<circle cx="161.07" cy="246.23" r="3.5"/>
<circle cx="161.07" cy="246.23" r="3.5"/>
<circle cx="161.07" cy="246.23" r="3.5"/>
<circle cx="161.07" cy="246.23" r="3.5"/>
<circle cx="161.07" cy="246.23" r="3.5"/>
<circle cx="161.07" cy="246.23" r="3.5"/>
<circle cx="161.07" cy="246.23" r="3.5"/>
<circle cx="161.07" cy="246.23" r="3.5"/>
<circle cx="161.07" cy="246.23" r="3.5"/>
<circle cx="161.07" cy="246.23" r="3.5"/>
<circle cx="161.07" cy="246.23" r="3.5"/>
<circle cx="161.07" cy="246.23" r="3.5"/>
<circle cx="161.07" cy="246.23" r="3.5"/>
<circle cx="170.27" cy="243.99" r="3.5"/>
<circle cx="170.27" cy="243.99" r="3.5"/>
<circle cx="170.27" cy="243.99" r="3.5"/>
<circle cx="170.27" cy="243.99" r="3.5"/>
<circle cx="170.27" cy="243.99" r="3.5"/>
<circle cx="170.27" cy="243.99" r="3.5"/>
<circle cx="170.27" cy="243.99" r="3.5"/>
<circle cx="170.27" cy="243.99" r="3.5"/>
<circle cx="170.27" cy="243.99" r="3.5"/>
<circle cx="170.27" cy="243.99" r="3.5"/>
<circle cx="170.27" cy="243.99" r="3.5"/>
<circle cx="170.27" cy="243.99" r="3.5"/>
<circle cx="170.27" cy="243.99" r="3.5"/>
<circle cx="170.27" cy="243.99" r="3.5"/>
<circle cx="170.27" cy="243.99" r="3.5"/>
<circle cx="170.27" cy="243.99" r="3.5"/>
<circle cx="170.27" cy="243.99" r="3.5"/>
<circle cx="170.27" cy="243.99" r="3.5"/>
<circle cx="170.27" cy="243.99" r="3.5"/>
<circle cx="170.27" cy="243.99" r="3.5"/>
<circle cx="170.27" cy="243.99" r="3.5"/>
<circle cx="170.27" cy="243.99" r="3.5"/>
<circle cx="170.27" cy="243.99" r="3.5"/>
<circle cx="179.47" cy="239.67" r="3.5"/>
<circle cx="179.47" cy="239.67" r="3.5"/>
<circle cx="179.47" cy="239.67" r="3.5"/>
<circle cx="179.47" cy="239.67" r="3.5"/>
<circle cx="179.47" cy="239.67" r="3.5"/>
<circle cx="179.47" cy="239.67" r="3.5"/>
<circle cx="179.47" cy="239.67" r="3.5"/>
<circle cx="179.47" cy="239.67" r="3.5"/>
<circle cx="179.47" cy="239.67" r="3.5"/>
<circle cx="179.47" cy="239.67" r="3.5"/>
<circle cx="179.47" cy="239.67" r="3.5"/>
<circle cx="179.47" cy="239.67" r="3.5"/>
<circle cx="179.47" cy="239.67" r="3.5"/>
<circle cx="179.47" cy="239.67" r="3.5"/>
<circle cx="179.47" cy="239.67" r="3.5"/>
<circle cx="179.47" cy="239.67" r="3.5"/>
<circle cx="179.47" cy="239.67" r="3.5"/>
<circle cx="179.47" cy="239.67" r="3.5"/>
<circle cx="179.47" cy="239.67" r="3.5"/>
<circle cx="183.15" cy="239.83" r="3.5"/>
<circle cx="183.15" cy="239.83" r="3.5"/>
<circle cx="188.67" cy="239.67" r="3.5"/>
<circle cx="188.67" cy="239.67" r="3.5"/>
<circle cx="188.67" cy="239.67" r="3.5"/>
<circle cx="188.67" cy="239.67" r="3.5"/>
<circle cx="188.67" cy="239.67" r="3.5"/>
<circle cx="188.67" cy="239.67" r="3.5"/>
<circle cx="188.67" cy="239.67" r="3.5"/>
<circle cx="188.67" cy="239.67" r="3.5"/>
<circle cx="188.67" cy="239.67" r="3.5"/>
<circle cx="188.67" cy="239.67" r="3.5"/>
<circle cx="188.67" cy="239.67" r="3.5"/>
<circle cx="188.67" cy="239.67" r="3.5"/>
<circle cx="188.67" cy="239.67" r="3.5"/>
<circle cx="188.67" cy="239.67" r="3.5"/>
<circle cx="188.67" cy="239.67" r="3.5"/>
<circle cx="188.67" cy="239.67" r="3.5"/>
<circle cx="188.67" cy="239.67" r="3.5"/>
<circle cx="188.67" cy="239.67" r="3.5"/>
<circle cx="188.67" cy="239.67" r="3.5"/>
<circle cx="188.67" cy="239.67" r="3.5"/>
<circle cx="188.67" cy="239.67" r="3.5"/>
<circle cx="188.67" cy="239.67" r="3.5"/>
<circle cx="188.67" cy="239.67" r="3.5"/>
<circle cx="188.67" cy="239.67" r="3.5"/>
<circle cx="188.67" cy="239.67" r="3.5"/>
<circle cx="188.67" cy="239.67" r="3.5"/>
<circle cx="188.67" cy="239.67" r="3.5"/>
<circle cx="188.67" cy="239.67" r="3.5"/>
<circle cx="188.67" cy="239.67" r="3.5"/>
<circle cx="188.67" cy="239.67" r="3.5"/>
<circle cx="188.67" cy="239.67" r="3.5"/>
<circle cx="188.67" cy="239.67" r="3.5"/>
<circle cx="188.67" cy="239.67" r="3.5"/>
<circle cx="197.87" cy="235.99" r="3.5"/>
<circle cx="197.87" cy="235.99" r="3.5"/>
<circle cx="197.87" cy="235.99" r="3.5"/>
<circle cx="197.87" cy="235.99" r="3.5"/>
<circle cx="197.87" cy="235.99" r="3.5"/>
<circle cx="197.87" cy="235.99" r="3.5"/>
<circle cx="197.87" cy="235.99" r="3.5"/>
<circle cx="197.87" cy="235.99" r="3.5"/>
<circle cx="197.87" cy="235.99" r="3.5"/>
<circle cx="197.87" cy="235.99" r="3.5"/>
<circle cx="197.87" cy="235.99" r="3.5"/>
<circle cx="197.87" cy="235.99" r="3.5"/>
<circle cx="197.87" cy="235.99" r="3.5"/>
<circle cx="197.87" cy="235.99" r="3.5"/>
<circle cx="197.87" cy="235.99" r="3.5"/>
<circle cx="197.87" cy="235.99" r="3.5"/>
<circle cx="197.87" cy="235.99" r="3.5"/>
<circle cx="197.87" cy="235.99" r="3.5"/>
<circle cx="197.87" cy="235.99" r="3.5"/>
<circle cx="197.87" cy="235.99" r="3.5"/>
<circle cx="197.87" cy="235.99" r="3.5"/>
<circle cx="197.87" cy="235.99" r="3.5"/>
<circle cx="197.87" cy="235.99" r="3.5"/>
<circle cx="197.87" cy="235.99" r="3.5"/>
<circle cx="197.87" cy="235.99" r="3.5"/>
<circle cx="197.87" cy="235.99" r="3.5"/>
<circle cx="197.87" cy="235.99" r="3.5"/>
<circle cx="197.87" cy="235.99" r="3.5"/>
<circle cx="197.87" cy="235.99" r="3.5"/>
<circle cx="197.87" cy="235.99" r="3.5"/>
<circle cx="197.87" cy="235.99" r="3.5"/>
<circle cx="197.87" cy="235.99" r="3.5"/>
<circle cx="201.55" cy="238.87" r="3.5"/>
<circle cx="201.55" cy="238.87" r="3.5"/>
<circle cx="201.55" cy="238.87" r="3.5"/>
<circle cx="201.55" cy="238.87" r="3.5"/>
<circle cx="201.55" cy="238.87" r="3.5"/>
<circle cx="201.55" cy="238.87" r="3.5"/>
<circle cx="207.07" cy="240.15" r="3.5"/>
<circle cx="207.07" cy="240.15" r="3.5"/>
<circle cx="207.07" cy="240.15" r="3.5"/>
<circle cx="207.07" cy="240.15" r="3.5"/>
<circle cx="207.07" cy="240.15" r="3.5"/>
<circle cx="207.07" cy="240.15" r="3.5"/>
<circle cx="207.07" cy="240.15" r="3.5"/>
<circle cx="207.07" cy="240.15" r="3.5"/>
<circle cx="207.07" cy="240.15" r="3.5"/>
<circle cx="207.07" cy="240.15" r="3.5"/>
<circle cx="207.07" cy="240.15" r="3.5"/>
<circle cx="207.07" cy="240.15" r="3.5"/>
<circle cx="207.07" cy="240.15" r="3.5"/>
<circle cx="207.07" cy="240.15" r="3.5"/>
<circle cx="207.07" cy="240.15" r="3.5"/>
<circle cx="207.07" cy="240.15" r="3.5"/>
<circle cx="207.07" cy="240.15" r="3.5"/>
<circle cx="207.07" cy="240.15" r="3.5"/>
<circle cx="207.07" cy="240.15" r="3.5"/>
<circle cx="207.07" cy="240.15" r="3.5"/>
<circle cx="207.07" cy="240.15" r="3.5"/>
<circle cx="207.07" cy="240.15" r="3.5"/>
<circle cx="207.07" cy="240.15" r="3.5"/>
<circle cx="207.07" cy="240.15" r="3.5"/>
<circle cx="207.07" cy="240.15" r="3.5"/>
<circle cx="207.07" cy="240.15" r="3.5"/>
<circle cx="207.07" cy="240.15" r="3.5"/>
<circle cx="207.07" cy="240.15" r="3.5"/>
<circle cx="207.07" cy="240.15" r="3.5"/>
<circle cx="207.07" cy="240.15" r="3.5"/>
<circle cx="207.07" cy="240.15" r="3.5"/>
<circle cx="207.07" cy="240.15" r="3.5"/>
<circle cx="207.07" cy="240.15" r="3.5"/>
<circle cx="207.07" cy="240.15" r="3.5"/>
<circle cx="207.07" cy="240.15" r="3.5"/>
<circle cx="207.07" cy="240.15" r="3.5"/>
<circle cx="207.07" cy="240.15" r="3.5"/>
<circle cx="207.07" cy="240.15" r="3.5"/>
<circle cx="207.07" cy="240.15" r="3.5"/>
<circle cx="207.07" cy="240.15" r="3.5"/>
<circle cx="207.07" cy="240.15" r="3.5"/>
<circle cx="207.07" cy="240.15" r="3.5"/>
<circle cx="207.07" cy="240.15" r="3.5"/>
<circle cx="207.07" cy="240.15" r="3.5"/>
<circle cx="207.07" cy="240.15" r="3.5"/>
<circle cx="207.07" cy="240.15" r="3.5"/>
<circle cx="207.07" cy="240.15" r="3.5"/>
<circle cx="207.07" cy="240.15" r="3.5"/>
<circle cx="207.07" cy="240.15" r="3.5"/>
<circle cx="207.07" cy="240.15" r="3.5"/>
<circle cx="216.27" cy="238.23" r="3.5"/>
<circle cx="216.27" cy="238.23" r="3.5"/>
<circle cx="216.27" cy="238.23" r="3.5"/>
<circle cx="216.27" cy="238.23" r="3.5"/>
<circle cx="216.27" cy="238.23" r="3.5"/>
<circle cx="216.27" cy="238.23" r="3.5"/>
<circle cx="216.27" cy="238.23" r="3.5"/>
<circle cx="216.27" cy="238.23" r="3.5"/>
<circle cx="216.27" cy="238.23" r="3.5"/>
<circle cx="216.27" cy="238.23" r="3.5"/>
<circle cx="216.27" cy="238.23" r="3.5"/>
<circle cx="216.27" cy="238.23" r="3.5"/>
<circle cx="216.27" cy="238.23" r="3.5"/>
<circle cx="216.27" cy="238.23" r="3.5"/>
<circle cx="216.27" cy="238.23" r="3.5"/>
<circle cx="216.27" cy="238.23" r="3.5"/>
<circle cx="216.27" cy="238.23" r="3.5"/>
<circle cx="216.27" cy="238.23" r="3.5"/>
<circle cx="216.27" cy="238.23" r="3.5"/>
<circle cx="216.27" cy="238.23" r="3.5"/>
<circle cx="216.27" cy="238.23" r="3.5"/>
<circle cx="216.27" cy="238.23" r="3.5"/>
<circle cx="216.27" cy="238.23" r="3.5"/>
<circle cx="216.27" cy="238.23" r="3.5"/>
<circle cx="216.27" cy="238.23" r="3.5"/>
<circle cx="216.27" cy="238.23" r="3.5"/>
<circle cx="216.27" cy="238.23" r="3.5"/>
<circle cx="216.27" cy="238.23" r="3.5"/>
<circle cx="216.27" cy="238.23" r="3.5"/>
<circle cx="216.27" cy="238.23" r="3.5"/>
<circle cx="216.27" cy="238.23" r="3.5"/>
<circle cx="225.47" cy="236.63" r="3.5"/>
<circle cx="225.47" cy="236.63" r="3.5"/>
<circle cx="225.47" cy="236.63" r="3.5"/>
<circle cx="225.47" cy="236.63" r="3.5"/>
<circle cx="225.47" cy="236.63" r="3.5"/>
<circle cx="225.47" cy="236.63" r="3.5"/>
<circle cx="225.47" cy="236.63" r="3.5"/>
<circle cx="225.47" cy="236.63" r="3.5"/>
<circle cx="225.47" cy="236.63" r="3.5"/>
<circle cx="225.47" cy="236.63" r="3.5"/>
<circle cx="225.47" cy="236.63" r="3.5"/>
<circle cx="225.47" cy="236.63" r="3.5"/>
<circle cx="225.47" cy="236.63" r="3.5"/>
<circle cx="225.47" cy="236.63" r="3.5"/>
<circle cx="225.47" cy="236.63" r="3.5"/>
<circle cx="225.47" cy="236.63" r="3.5"/>
<circle cx="225.47" cy="236.63" r="3.5"/>
<circle cx="225.47" cy="236.63" r="3.5"/>
<circle cx="225.47" cy="236.63" r="3.5"/>
<circle cx="225.47" cy="236.63" r="3.5"/>
<circle cx="225.47" cy="236.63" r="3.5"/>
<circle cx="225.47" cy="236.63" r="3.5"/>
<circle cx="225.47" cy="236.63" r="3.5"/>
<circle cx="225.47" cy="236.63" r="3.5"/>
<circle cx="225.47" cy="236.63" r="3.5"/>
<circle cx="225.47" cy="236.63" r="3.5"/>
<circle cx="225.47" cy="236.63" r="3.5"/>
<circle cx="225.47" cy="236.63" r="3.5"/>
<circle cx="225.47" cy="236.63" r="3.5"/>
<circle cx="225.47" cy="236.63" r="3.5"/>
<circle cx="225.47" cy="236.63" r="3.5"/>
<circle cx="225.47" cy="236.63" r="3.5"/>
<circle cx="225.47" cy="236.63" r="3.5"/>
<circle cx="225.47" cy="236.63" r="3.5"/>
<circle cx="225.47" cy="236.63" r="3.5"/>
<circle cx="225.47" cy="236.63" r="3.5"/>
<circle cx="225.47" cy="236.63" r="3.5"/>
<circle cx="225.47" cy="236.63" r="3.5"/>
<circle cx="225.47" cy="236.63" r="3.5"/>
<circle cx="225.47" cy="236.63" r="3.5"/>
<circle cx="225.47" cy="236.63" r="3.5"/>
<circle cx="225.47" cy="236.63" r="3.5"/>
<circle cx="225.47" cy="236.63" r="3.5"/>
<circle cx="225.47" cy="236.63" r="3.5"/>
<circle cx="225.47" cy="236.63" r="3.5"/>
<circle cx="225.47" cy="236.63" r="3.5"/>
<circle cx="225.47" cy="236.63" r="3.5"/>
<circle cx="225.47" cy="236.63" r="3.5"/>
<circle cx="225.47" cy="236.63" r="3.5"/>
<circle cx="229.15" cy="233.11" r="3.5"/>
<circle cx="229.15" cy="233.11" r="3.5"/>
<circle cx="229.15" cy="233.11" r="3.5"/>
<circle cx="229.15" cy="233.11" r="3.5"/>
<circle cx="229.15" cy="233.11" r="3.5"/>
<circle cx="229.15" cy="233.11" r="3.5"/>
<circle cx="229.15" cy="233.11" r="3.5"/>
<circle cx="234.67" cy="231.03" r="3.5"/>
<circle cx="234.67" cy="231.03" r="3.5"/>
<circle cx="234.67" cy="231.03" r="3.5"/>
<circle cx="234.67" cy="231.03" r="3.5"/>
<circle cx="234.67" cy="231.03" r="3.5"/>
<circle cx="234.67" cy="231.03" r="3.5"/>
<circle cx="234.67" cy="231.03" r="3.5"/>
<circle cx="234.67" cy="231.03" r="3.5"/>
<circle cx="234.67" cy="231.03" r="3.5"/>
<circle cx="234.67" cy="231.03" r="3.5"/>
<circle cx="234.67" cy="231.03" r="3.5"/>
<circle cx="234.67" cy="231.03" r="3.5"/>
<circle cx="234.67" cy="231.03" r="3.5"/>
<circle cx="234.67" cy="231.03" r="3.5"/>
<circle cx="234.67" cy="231.03" r="3.5"/>
<circle cx="234.67" cy="231.03" r="3.5"/>
<circle cx="234.67" cy="231.03" r="3.5"/>
<circle cx="234.67" cy="231.03" r="3.5"/>
<circle cx="234.67" cy="231.03" r="3.5"/>
<circle cx="234.67" cy="231.03" r="3.5"/>
<circle cx="234.67" cy="231.03" r="3.5"/>
<circle cx="234.67" cy="231.03" r="3.5"/>
<circle cx="234.67" cy="231.03" r="3.5"/>
<circle cx="234.67" cy="231.03" r="3.5"/>
<circle cx="234.67" cy="231.03" r="3.5"/>
<circle cx="234.67" cy="231.03" r="3.5"/>
<circle cx="234.67" cy="231.03" r="3.5"/>
<circle cx="234.67" cy="231.03" r="3.5"/>
<circle cx="234.67" cy="231.03" r="3.5"/>
<circle cx="234.67" cy="231.03" r="3.5"/>
<circle cx="234.67" cy="231.03" r="3.5"/>
<circle cx="234.67" cy="231.03" r="3.5"/>
<circle cx="234.67" cy="231.03" r="3.5"/>
<circle cx="234.67" cy="231.03" r="3.5"/>
<circle cx="234.67" cy="231.03" r="3.5"/>
<circle cx="234.67" cy="231.03" r="3.5"/>
<circle cx="234.67" cy="231.03" r="3.5"/>
<circle cx="234.67" cy="231.03" r="3.5"/>
<circle cx="234.67" cy="231.03" r="3.5"/>
<circle cx="234.67" cy="231.03" r="3.5"/>
<circle cx="234.67" cy="231.03" r="3.5"/>
<circle cx="234.67" cy="231.03" r="3.5"/>
<circle cx="234.67" cy="231.03" r="3.5"/>
<circle cx="238.35" cy="228.79" r="3.5"/>
<circle cx="238.35" cy="228.79" r="3.5"/>
<circle cx="238.35" cy="228.79" r="3.5"/>
<circle cx="238.35" cy="228.79" r="3.5"/>
<circle cx="238.35" cy="228.79" r="3.5"/>
<circle cx="238.35" cy="228.79" r="3.5"/>
<circle cx="238.35" cy="228.79" r="3.5"/>
<circle cx="238.35" cy="228.79" r="3.5"/>
<circle cx="243.87" cy="227.51" r="3.5"/>
<circle cx="243.87" cy="227.51" r="3.5"/>
<circle cx="243.87" cy="227.51" r="3.5"/>
<circle cx="243.87" cy="227.51" r="3.5"/>
<circle cx="243.87" cy="227.51" r="3.5"/>
<circle cx="243.87" cy="227.51" r="3.5"/>
<circle cx="243.87" cy="227.51" r="3.5"/>
<circle cx="243.87" cy="227.51" r="3.5"/>
<circle cx="243.87" cy="227.51" r="3.5"/>
<circle cx="243.87" cy="227.51" r="3.5"/>
<circle cx="243.87" cy="227.51" r="3.5"/>
<circle cx="243.87" cy="227.51" r="3.5"/>
<circle cx="243.87" cy="227.51" r="3.5"/>
<circle cx="243.87" cy="227.51" r="3.5"/>
<circle cx="243.87" cy="227.51" r="3.5"/>
<circle cx="243.87" cy="227.51" r="3.5"/>
<circle cx="243.87" cy="227.51" r="3.5"/>
<circle cx="243.87" cy="227.51" r="3.5"/>
<circle cx="243.87" cy="227.51" r="3.5"/>
<circle cx="243.87" cy="227.51" r="3.5"/>
<circle cx="243.87" cy="227.51" r="3.5"/>
<circle cx="243.87" cy="227.51" r="3.5"/>
<circle cx="243.87" cy="227.51" r="3.5"/>
<circle cx="243.87" cy="227.51" r="3.5"/>
<circle cx="243.87" cy="227.51" r="3.5"/>
<circle cx="243.87" cy="227.51" r="3.5"/>
<circle cx="243.87" cy="227.51" r="3.5"/>
<circle cx="243.87" cy="227.51" r="3.5"/>
<circle cx="243.87" cy="227.51" r="3.5"/>
<circle cx="243.87" cy="227.51" r="3.5"/>
<circle cx="243.87" cy="227.51" r="3.5"/>
<circle cx="243.87" cy="227.51" r="3.5"/>
<circle cx="243.87" cy="227.51" r="3.5"/>
<circle cx="243.87" cy="227.51" r="3.5"/>
<circle cx="243.87" cy="227.51" r="3.5"/>
<circle cx="243.87" cy="227.51" r="3.5"/>
<circle cx="243.87" cy="227.51" r="3.5"/>
<circle cx="243.87" cy="227.51" r="3.5"/>
<circle cx="247.55" cy="223.83" r="3.5"/>
<circle cx="247.55" cy="223.83" r="3.5"/>
<circle cx="247.55" cy="223.83" r="3.5"/>
<circle cx="247.55" cy="223.83" r="3.5"/>
<circle cx="247.55" cy="223.83" r="3.5"/>
<circle cx="247.55" cy="223.83" r="3.5"/>
<circle cx="247.55" cy="223.83" r="3.5"/>
<circle cx="247.55" cy="223.83" r="3.5"/>
<circle cx="253.07" cy="222.07" r="3.5"/>
<circle cx="253.07" cy="222.07" r="3.5"/>
<circle cx="253.07" cy="222.07" r="3.5"/>
<circle cx="253.07" cy="222.07" r="3.5"/>
<circle cx="253.07" cy="222.07" r="3.5"/>
<circle cx="253.07" cy="222.07" r="3.5"/>
<circle cx="253.07" cy="222.07" r="3.5"/>
<circle cx="253.07" cy="222.07" r="3.5"/>
<circle cx="253.07" cy="222.07" r="3.5"/>
<circle cx="253.07" cy="222.07" r="3.5"/>
<circle cx="253.07" cy="222.07" r="3.5"/>
<circle cx="253.07" cy="222.07" r="3.5"/>
<circle cx="253.07" cy="222.07" r="3.5"/>
<circle cx="253.07" cy="222.07" r="3.5"/>
<circle cx="253.07" cy="222.07" r="3.5"/>
<circle cx="253.07" cy="222.07" r="3.5"/>
<circle cx="256.75" cy="220.15" r="3.5"/>
<circle cx="256.75" cy="220.15" r="3.5"/>
<circle cx="256.75" cy="220.15" r="3.5"/>
<circle cx="256.75" cy="220.15" r="3.5"/>
<circle cx="256.75" cy="220.15" r="3.5"/>
<circle cx="256.75" cy="220.15" r="3.5"/>
<circle cx="256.75" cy="220.15" r="3.5"/>
<circle cx="262.27" cy="217.59" r="3.5"/>
<circle cx="262.27" cy="217.59" r="3.5"/>
<circle cx="262.27" cy="217.59" r="3.5"/>
<circle cx="262.27" cy="217.59" r="3.5"/>
<circle cx="262.27" cy="217.59" r="3.5"/>
<circle cx="262.27" cy="217.59" r="3.5"/>
<circle cx="262.27" cy="217.59" r="3.5"/>
<circle cx="262.27" cy="217.59" r="3.5"/>
<circle cx="262.27" cy="217.59" r="3.5"/>
<circle cx="262.27" cy="217.59" r="3.5"/>
<circle cx="262.27" cy="217.59" r="3.5"/>
<circle cx="262.27" cy="217.59" r="3.5"/>
<circle cx="262.27" cy="217.59" r="3.5"/>
<circle cx="262.27" cy="217.59" r="3.5"/>
<circle cx="262.27" cy="217.59" r="3.5"/>
<circle cx="262.27" cy="217.59" r="3.5"/>
<circle cx="262.27" cy="217.59" r="3.5"/>
<circle cx="262.27" cy="217.59" r="3.5"/>
<circle cx="262.27" cy="217.59" r="3.5"/>
<circle cx="262.27" cy="217.59" r="3.5"/>
<circle cx="262.27" cy="217.59" r="3.5"/>
<circle cx="262.27" cy="217.59" r="3.5"/>
<circle cx="262.27" cy="217.59" r="3.5"/>
<circle cx="262.27" cy="217.59" r="3.5"/>
<circle cx="262.27" cy="217.59" r="3.5"/>
<circle cx="262.27" cy="217.59" r="3.5"/>
<circle cx="262.27" cy="217.59" r="3.5"/>
<circle cx="262.27" cy="217.59" r="3.5"/>
<circle cx="262.27" cy="217.59" r="3.5"/>
<circle cx="262.27" cy="217.59" r="3.5"/>
<circle cx="262.27" cy="217.59" r="3.5"/>
<circle cx="262.27" cy="217.59" r="3.5"/>
<circle cx="262.27" cy="217.59" r="3.5"/>
<circle cx="262.27" cy="217.59" r="3.5"/>
<circle cx="262.27" cy="217.59" r="3.5"/>
<circle cx="262.27" cy="217.59" r="3.5"/>
<circle cx="262.27" cy="217.59" r="3.5"/>
<circle cx="262.27" cy="217.59" r="3.5"/>
<circle cx="262.27" cy="217.59" r="3.5"/>
<circle cx="262.27" cy="217.59" r="3.5"/>
<circle cx="262.27" cy="217.59" r="3.5"/>
<circle cx="262.27" cy="217.59" r="3.5"/>
<circle cx="262.27" cy="217.59" r="3.5"/>
<circle cx="262.27" cy="217.59" r="3.5"/>
<circle cx="262.27" cy="217.59" r="3.5"/>
<circle cx="262.27" cy="217.59" r="3.5"/>
<circle cx="262.27" cy="217.59" r="3.5"/>
<circle cx="262.27" cy="217.59" r="3.5"/>
<circle cx="262.27" cy="217.59" r="3.5"/>
<circle cx="262.27" cy="217.59" r="3.5"/>
<circle cx="262.27" cy="217.59" r="3.5"/>
<circle cx="262.27" cy="217.59" r="3.5"/>
<circle cx="262.27" cy="217.59" r="3.5"/>
<circle cx="271.47" cy="215.83" r="3.5"/>
<circle cx="271.47" cy="215.83" r="3.5"/>
<circle cx="271.47" cy="215.83" r="3.5"/>
<circle cx="271.47" cy="215.83" r="3.5"/>
<circle cx="271.47" cy="215.83" r="3.5"/>
<circle cx="271.47" cy="215.83" r="3.5"/>
<circle cx="271.47" cy="215.83" r="3.5"/>
<circle cx="271.47" cy="215.83" r="3.5"/>
<circle cx="271.47" cy="215.83" r="3.5"/>
<circle cx="271.47" cy="215.83" r="3.5"/>
<circle cx="271.47" cy="215.83" r="3.5"/>
<circle cx="271.47" cy="215.83" r="3.5"/>
<circle cx="271.47" cy="215.83" r="3.5"/>
<circle cx="271.47" cy="215.83" r="3.5"/>
<circle cx="271.47" cy="215.83" r="3.5"/>
<circle cx="271.47" cy="215.83" r="3.5"/>
<circle cx="271.47" cy="215.83" r="3.5"/>
<circle cx="271.47" cy="215.83" r="3.5"/>
<circle cx="271.47" cy="215.83" r="3.5"/>
<circle cx="271.47" cy="215.83" r="3.5"/>
<circle cx="271.47" cy="215.83" r="3.5"/>
<circle cx="271.47" cy="215.83" r="3.5"/>
<circle cx="271.47" cy="215.83" r="3.5"/>
<circle cx="271.47" cy="215.83" r="3.5"/>
<circle cx="271.47" cy="215.83" r="3.5"/>
<circle cx="271.47" cy="215.83" r="3.5"/>
<circle cx="271.47" cy="215.83" r="3.5"/>
<circle cx="275.15" cy="215.19" r="3.5"/>
<circle cx="275.15" cy="215.19" r="3.5"/>
<circle cx="275.15" cy="215.19" r="3.5"/>
<circle cx="275.15" cy="215.19" r="3.5"/>
<circle cx="280.67" cy="214.71" r="3.5"/>
<circle cx="280.67" cy="214.71" r="3.5"/>
<circle cx="280.67" cy="214.71" r="3.5"/>
<circle cx="280.67" cy="214.71" r="3.5"/>
<circle cx="280.67" cy="214.71" r="3.5"/>
<circle cx="280.67" cy="214.71" r="3.5"/>
<circle cx="280.67" cy="214.71" r="3.5"/>
<circle cx="280.67" cy="214.71" r="3.5"/>
<circle cx="280.67" cy="214.71" r="3.5"/>
<circle cx="280.67" cy="214.71" r="3.5"/>
<circle cx="280.67" cy="214.71" r="3.5"/>
<circle cx="280.67" cy="214.71" r="3.5"/>
<circle cx="280.67" cy="214.71" r="3.5"/>
<circle cx="280.67" cy="214.71" r="3.5"/>
<circle cx="280.67" cy="214.71" r="3.5"/>
<circle cx="280.67" cy="214.71" r="3.5"/>
<circle cx="280.67" cy="214.71" r="3.5"/>
<circle cx="280.67" cy="214.71" r="3.5"/>
<circle cx="280.67" cy="214.71" r="3.5"/>
<circle cx="280.67" cy="214.71" r="3.5"/>
<circle cx="280.67" cy="214.71" r="3.5"/>
<circle cx="280.67" cy="214.71" r="3.5"/>
<circle cx="280.67" cy="214.71" r="3.5"/>
<circle cx="280.67" cy="214.71" r="3.5"/>
<circle cx="280.67" cy="214.71" r="3.5"/>
<circle cx="280.67" cy="214.71" r="3.5"/>
<circle cx="284.35" cy="214.23" r="3.5"/>
<circle cx="284.35" cy="214.23" r="3.5"/>
<circle cx="284.35" cy="214.23" r="3.5"/>
<circle cx="284.35" cy="214.23" r="3.5"/>
<circle cx="284.35" cy="214.23" r="3.5"/>
<circle cx="289.87" cy="214.23" r="3.5"/>
<circle cx="289.87" cy="214.23" r="3.5"/>
<circle cx="289.87" cy="214.23" r="3.5"/>
<circle cx="289.87" cy="214.23" r="3.5"/>
<circle cx="289.87" cy="214.23" r="3.5"/>
<circle cx="289.87" cy="214.23" r="3.5"/>
<circle cx="289.87" cy="214.23" r="3.5"/>
<circle cx="289.87" cy="214.23" r="3.5"/>
<circle cx="289.87" cy="214.23" r="3.5"/>
<circle cx="289.87" cy="214.23" r="3.5"/>
<circle cx="289.87" cy="214.23" r="3.5"/>
<circle cx="289.87" cy="214.23" r="3.5"/>
<circle cx="289.87" cy="214.23" r="3.5"/>
<circle cx="289.87" cy="214.23" r="3.5"/>
<circle cx="289.87" cy="214.23" r="3.5"/>
<circle cx="289.87" cy="214.23" r="3.5"/>
<circle cx="299.07" cy="217.27" r="3.5"/>
<circle cx="299.07" cy="217.27" r="3.5"/>
<circle cx="299.07" cy="217.27" r="3.5"/>
<circle cx="299.07" cy="217.27" r="3.5"/>
<circle cx="299.07" cy="217.27" r="3.5"/>
<circle cx="299.07" cy="217.27" r="3.5"/>
<circle cx="299.07" cy="217.27" r="3.5"/>
<circle cx="299.07" cy="217.27" r="3.5"/>
<circle cx="299.07" cy="217.27" r="3.5"/>
<circle cx="299.07" cy="217.27" r="3.5"/>
<circle cx="299.07" cy="217.27" r="3.5"/>
<circle cx="299.07" cy="217.27" r="3.5"/>
<circle cx="299.07" cy="217.27" r="3.5"/>
<circle cx="299.07" cy="217.27" r="3.5"/>
<circle cx="299.07" cy="217.27" r="3.5"/>
<circle cx="299.07" cy="217.27" r="3.5"/>
<circle cx="299.07" cy="217.27" r="3.5"/>
<circle cx="299.07" cy="217.27" r="3.5"/>
<circle cx="299.07" cy="217.27" r="3.5"/>
<circle cx="299.07" cy="217.27" r="3.5"/>
<circle cx="299.07" cy="217.27" r="3.5"/>
<circle cx="299.07" cy="217.27" r="3.5"/>
<circle cx="299.07" cy="217.27" r="3.5"/>
<circle cx="299.07" cy="217.27" r="3.5"/>
<circle cx="299.07" cy="217.27" r="3.5"/>
<circle cx="299.07" cy="217.27" r="3.5"/>
<circle cx="299.07" cy="217.27" r="3.5"/>
<circle cx="299.07" cy="217.27" r="3.5"/>
<circle cx="299.07" cy="217.27" r="3.5"/>
<circle cx="302.75" cy="208.47" r="3.5"/>
<circle cx="308.27" cy="208.47" r="3.5"/>
<circle cx="308.27" cy="208.47" r="3.5"/>
<circle cx="308.27" cy="208.47" r="3.5"/>
<circle cx="308.27" cy="208.47" r="3.5"/>
<circle cx="308.27" cy="208.47" r="3.5"/>
<circle cx="308.27" cy="208.47" r="3.5"/>
<circle cx="308.27" cy="208.47" r="3.5"/>
<circle cx="308.27" cy="208.47" r="3.5"/>
<circle cx="308.27" cy="208.47" r="3.5"/>
<circle cx="308.27" cy="208.47" r="3.5"/>
<circle cx="308.27" cy="208.47" r="3.5"/>
<circle cx="308.27" cy="208.47" r="3.5"/>
<circle cx="308.27" cy="208.47" r="3.5"/>
<circle cx="308.27" cy="208.47" r="3.5"/>
<circle cx="308.27" cy="208.47" r="3.5"/>
<circle cx="308.27" cy="208.47" r="3.5"/>
<circle cx="308.27" cy="208.47" r="3.5"/>
<circle cx="317.47" cy="209.43" r="3.5"/>
<circle cx="317.47" cy="209.43" r="3.5"/>
<circle cx="317.47" cy="209.43" r="3.5"/>
<circle cx="317.47" cy="209.43" r="3.5"/>
<circle cx="317.47" cy="209.43" r="3.5"/>
<circle cx="317.47" cy="209.43" r="3.5"/>
<circle cx="317.47" cy="209.43" r="3.5"/>
<circle cx="317.47" cy="209.43" r="3.5"/>
<circle cx="317.47" cy="209.43" r="3.5"/>
<circle cx="317.47" cy="209.43" r="3.5"/>
<circle cx="317.47" cy="209.43" r="3.5"/>
<circle cx="317.47" cy="209.43" r="3.5"/>
<circle cx="317.47" cy="209.43" r="3.5"/>
<circle cx="317.47" cy="209.43" r="3.5"/>
<circle cx="335.87" cy="201.11" r="3.5"/>
<circle cx="335.87" cy="201.11" r="3.5"/>
<circle cx="335.87" cy="201.11" r="3.5"/>
<circle cx="335.87" cy="201.11" r="3.5"/>
<circle cx="335.87" cy="201.11" r="3.5"/>
<circle cx="335.87" cy="201.11" r="3.5"/>
<circle cx="335.87" cy="201.11" r="3.5"/>
<circle cx="335.87" cy="201.11" r="3.5"/>
<circle cx="335.87" cy="201.11" r="3.5"/>
<circle cx="335.87" cy="201.11" r="3.5"/>
<circle cx="335.87" cy="201.11" r="3.5"/>
<circle cx="335.87" cy="201.11" r="3.5"/>
<circle cx="335.87" cy="201.11" r="3.5"/>
<circle cx="335.87" cy="201.11" r="3.5"/>
<circle cx="335.87" cy="201.11" r="3.5"/>
<circle cx="335.87" cy="201.11" r="3.5"/>
<circle cx="335.87" cy="201.11" r="3.5"/>
<circle cx="341.39" cy="199.35" r="3.5"/>
<circle cx="341.39" cy="199.35" r="3.5"/>
<circle cx="345.07" cy="199.35" r="3.5"/>
<circle cx="345.07" cy="199.35" r="3.5"/>
<circle cx="345.07" cy="199.35" r="3.5"/>
<circle cx="345.07" cy="199.35" r="3.5"/>
<circle cx="354.27" cy="200.47" r="3.5"/>
<circle cx="354.27" cy="200.47" r="3.5"/>
<circle cx="354.27" cy="200.47" r="3.5"/>
<circle cx="354.27" cy="200.47" r="3.5"/>
<circle cx="354.27" cy="200.47" r="3.5"/>
<circle cx="354.27" cy="200.47" r="3.5"/>
<circle cx="354.27" cy="200.47" r="3.5"/>
<circle cx="354.27" cy="200.47" r="3.5"/>
<circle cx="354.27" cy="200.47" r="3.5"/>
<circle cx="354.27" cy="200.47" r="3.5"/>
<circle cx="354.27" cy="200.47" r="3.5"/>
<circle cx="354.27" cy="200.47" r="3.5"/>
<circle cx="363.47" cy="189.27" r="3.5"/>
<circle cx="363.47" cy="189.27" r="3.5"/>
<circle cx="363.47" cy="189.27" r="3.5"/>
<circle cx="363.47" cy="189.27" r="3.5"/>
<circle cx="385.55" cy="170.71" r="3.5"/>
<circle cx="385.55" cy="170.71" r="3.5"/>
<circle cx="385.55" cy="170.71" r="3.5"/>
<circle cx="385.55" cy="170.71" r="3.5"/>
<circle cx="385.55" cy="170.71" r="3.5"/>
<circle cx="385.55" cy="170.71" r="3.5"/>
<circle cx="385.55" cy="170.71" r="3.5"/>
<circle cx="385.55" cy="170.71" r="3.5"/>
<circle cx="391.07" cy="170.71" r="3.5"/>
<circle cx="391.07" cy="170.71" r="3.5"/>
<circle cx="391.07" cy="170.71" r="3.5"/>
<circle cx="391.07" cy="170.71" r="3.5"/>
<circle cx="391.07" cy="170.71" r="3.5"/>
<circle cx="391.07" cy="170.71" r="3.5"/>
<circle cx="391.07" cy="170.71" r="3.5"/>
<circle cx="391.07" cy="170.71" r="3.5"/>
<circle cx="391.07" cy="170.71" r="3.5"/>
<circle cx="391.07" cy="170.71" r="3.5"/>
<circle cx="391.07" cy="170.71" r="3.5"/>
<circle cx="455.47" cy="175.51" r="3.5"/>
<circle cx="455.47" cy="175.51" r="3.5"/>
<circle cx="455.47" cy="175.51" r="3.5"/>
<circle cx="455.47" cy="175.51" r="3.5"/>
</g>
<g font-size="19.44px" letter-spacing="-0.5">
<text x="58.87" y="440" text-anchor="middle">62</text>
<text x="132.47" y="440" text-anchor="middle">64</text>
<text x="206.07" y="440" text-anchor="middle">66</text>
<text x="279.67" y="440" text-anchor="middle">68</text>
<text x="353.27" y="440" text-anchor="middle">70</text>
<text x="426.87" y="440" text-anchor="middle">72</text>
<text x="33.4" y="424.63" text-anchor="end">55</text>
<text x="33.4" y="344.63" text-anchor="end">60</text>
<text x="33.4" y="264.63" text-anchor="end">65</text>
<text x="33.4" y="184.63" text-anchor="end">70</text>
<text x="33.4" y="104.63" text-anchor="end">75</text>
<text x="33.4" y="24.63" text-anchor="end">80</text>
</g>
<text x="256.8" y="468" font-size="23.33px" text-anchor="middle">Parent Average</text>
<rect x="506.5" y="24.5" width="167" height="63.8" rx="3.5" ry="3.5" fill="#f0f0f0" fill-opacity="0.8" stroke="#cccccc" stroke-opacity="0.8" stroke-width="1"/>
<circle cx="533.4" cy="42.3" r="3.5" fill="rgb(0,38,168)" fill-opacity="0.7"/>
<circle cx="533.4" cy="71.1" r="3.5" fill="rgb(111,108,0)" fill-opacity="0.7"/>
<g font-size="19.44px"><text x="567.7" y="47.9">Child</text><text x="569.2" y="75.7">Prediction</text></g>
</svg></body></html>
